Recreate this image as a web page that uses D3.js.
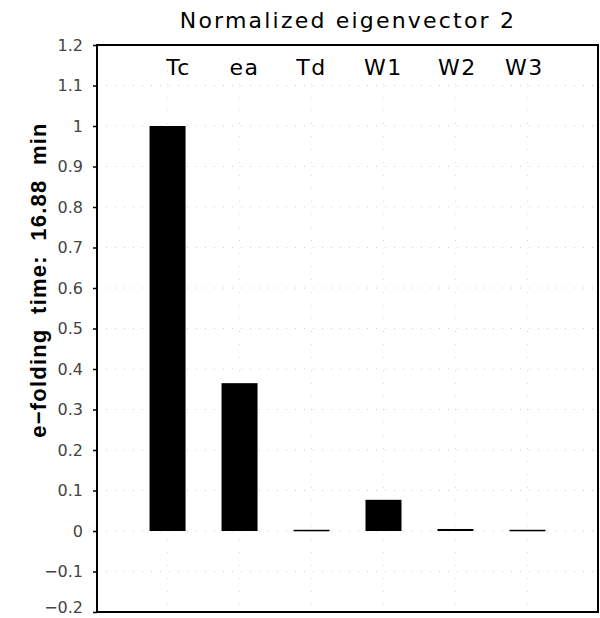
<!DOCTYPE html>
<html><head><meta charset="utf-8">
<script src="https://cdn.jsdelivr.net/npm/d3@7"></script>
<style>body{margin:0;background:#fff}svg{display:block}text{white-space:pre}</style>
</head><body>
<svg id="c" width="600" height="618"></svg>
<script>
const categories = ["Tc", "ea", "Td", "W1", "W2", "W3"];
const values = [1.0, 0.365, 0.003, 0.077, 0.005, 0.003];
const yTicks = [1.2, 1.1, 1.0, 0.9, 0.8, 0.7, 0.6, 0.5, 0.4, 0.3, 0.2, 0.1, 0, -0.1, -0.2];
const yTickLabels = ["1.2", "1.1", "1", "0.9", "0.8", "0.7", "0.6", "0.5", "0.4", "0.3", "0.2", "0.1", "0", "\u22120.1", "\u22120.2"];
const title = "Normalized eigenvector 2";
const yLabel = "e\u2212folding  time:  16.88  min";

const svg = d3.select("#c");
const L = 97, R = 598, T = 45, B = 612;
const x = d3.scaleBand().domain(categories).range([L, R]).paddingInner(0.5).paddingOuter(0.73);
const y = d3.scaleLinear().domain([-0.2, 1.2]).range([B, T]);
const labelShift = {Tc: 11, ea: 5, Td: 0, W1: 0, W2: 2, W3: -3};

// faint dotted grid
svg.append("g").selectAll("line").data(yTicks.slice(1, -1)).join("line")
  .attr("x1", L).attr("x2", R).attr("y1", d => y(d)).attr("y2", d => y(d))
  .attr("stroke", "#ccc").attr("stroke-width", 1).attr("stroke-dasharray", "1,8");
svg.append("g").selectAll("line").data(categories).join("line")
  .attr("x1", d => x(d) + x.bandwidth() / 2).attr("x2", d => x(d) + x.bandwidth() / 2)
  .attr("y1", T).attr("y2", B)
  .attr("stroke", "#ddd").attr("stroke-width", 1).attr("stroke-dasharray", "1,12");

// bars
svg.append("g").selectAll("rect").data(values).join("rect")
  .attr("x", (d, i) => x(categories[i]))
  .attr("width", x.bandwidth())
  .attr("y", d => y(Math.max(0, d)))
  .attr("height", d => Math.max(1.5, Math.abs(y(d) - y(0))))
  .attr("fill", "#000");

// frame
svg.append("rect").attr("x", L).attr("y", T).attr("width", R - L).attr("height", B - T)
  .attr("fill", "none").attr("stroke", "#000").attr("stroke-width", 2);

// y axis
const yAxis = d3.axisLeft(y).tickValues(yTicks).tickSize(4).tickPadding(10)
  .tickFormat((d, i) => yTickLabels[i]);
const ga = svg.append("g").attr("transform", `translate(${L},0)`).call(yAxis);
ga.select(".domain").remove();
ga.selectAll("line").attr("stroke", "#000").attr("stroke-width", 1.5);
ga.selectAll("text").attr("font-family", "DejaVu Sans, sans-serif").attr("font-size", 16)
  .attr("fill", "#444")
  .attr("dy", d => d === -0.2 ? "0.05em" : "0.32em");

// category labels
svg.append("g").selectAll("text").data(categories).join("text")
  .attr("x", d => x(d) + x.bandwidth() / 2 + labelShift[d])
  .attr("y", 75)
  .attr("text-anchor", "middle")
  .attr("font-family", "DejaVu Sans, sans-serif").attr("font-size", 22)
  .attr("letter-spacing", 1.5)
  .attr("fill", "#000")
  .text(d => d);

// title
svg.append("text").attr("x", 348).attr("y", 28).attr("text-anchor", "middle")
  .attr("font-family", "DejaVu Sans, sans-serif").attr("font-size", 22)
  .attr("letter-spacing", 2.2).attr("fill", "#000").text(title);

// y label
svg.append("text").attr("transform", "translate(46,280) rotate(-90)")
  .attr("text-anchor", "middle")
  .attr("font-family", "Liberation Sans, Arial, sans-serif").attr("font-size", 22)
  .attr("font-weight", "bold").attr("letter-spacing", 1.2)
  .attr("fill", "#000").text(yLabel);
</script>
</body></html>
